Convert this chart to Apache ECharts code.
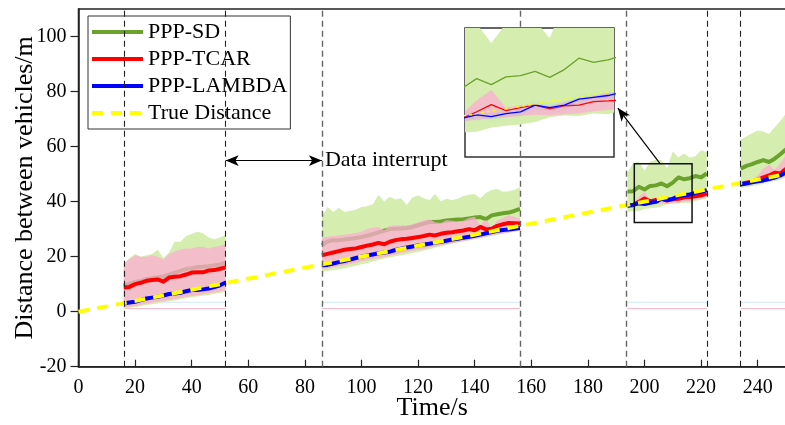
<!DOCTYPE html>
<html><head><meta charset="utf-8">
<script src="https://cdn.jsdelivr.net/npm/echarts@6/dist/echarts.min.js"></script>
<style>html,body{margin:0;padding:0;background:#fff}#c{width:785px;height:425px}</style>
</head><body><div id="c"></div>
<script>
// ---------- data ----------
const xTicks = [0,20,40,60,80,100,120,140,160,180,200,220,240];
const yTicks = [-20,0,20,40,60,80,100];

const segT = [
  [16,18,20,22,24,26,28,30,32,34,36,38,40,42,44,46,48,50,52],
  [86,88,90,92,94,96,98,100,102,104,106,108,110,112,114,116,118,120,122,124,126,128,130,132,134,136,138,140,142,144,146,148,150,152,154,156],
  [194,196,198,200,202,204,206,208,210,212,214,216,218,220,222],
  [234,236,238,240,242,244,246,248,250]
];

const sdHigh = [
  [17.5,19.5,21,20,20.5,21,22.5,19.5,21.5,25.5,25.3,27.5,28.2,29,28.5,27,26.3,27,28],
  [34.5,38,36.2,37.8,36.2,36.7,37,38,38.3,39,42.5,40,41.8,40.8,41.2,38.8,41.5,42.3,41.2,40.6,42.8,40,41,40.6,41,42,42.5,42.8,41.2,43.2,44.2,44.6,43.6,43.8,44.3,45.2],
  [50.6,54,54.5,51.3,54.5,55.2,55,52.1,58.2,56,57.5,56,56.5,58.7,57.9],
  [62.7,63.7,64.8,65.8,65.5,64.6,67,69.3,72]
];
const sdLow = [
  [1,1.3,1.6,2,2.4,2.7,3,3.4,3.8,4.1,4.5,4.9,5.2,5.5,5.8,6.1,6.5,6.8,7.2],
  [14.5,14.8,15.1,15.4,15.8,16.2,16.7,17.2,17.6,18.2,18.8,19.3,19.7,20.1,20.5,20.9,21.3,21.7,22.2,22.7,23.2,23.7,24.2,24.7,25.1,25.5,25.9,26.3,26.7,27.1,27.5,27.9,28.3,28.7,29.1,29.5],
  [36.3,36.5,36.6,37.3,37.6,37.8,38.2,39,39.3,39.2,39.6,39.5,40.2,40.7,41.2],
  [45,45.3,45.6,46,46.5,47,47.5,48,48.8]
];
const sdMean = [
  [9.5,10.2,10.8,11.2,11.8,12.2,12.5,12.8,13.5,14.2,14.8,15.5,15.8,16.2,16.3,16.5,16.8,17.2,17.8],
  [24.2,25.5,26,26,26.2,26.5,26.8,27.1,27.6,28.2,28.8,29.4,30,30.1,30.2,30.4,30.8,31.4,32,32.6,32.6,32.8,33.1,33.3,33.5,33.6,33.9,34.2,34.4,33.6,35,35.4,35.8,36,36.6,37.4],
  [43.7,43.8,45.4,44.4,45.7,45.9,46.6,45.6,46.9,48.8,48.1,48.5,49.3,48.8,50.3],
  [52,53,53.6,54.4,55.1,54.4,55.6,57.2,59]
];
const tcarHigh = [
  [17.5,19,20.5,20,20,20.5,20,19,21,22,22.5,23,23,23.5,23.5,23,23.5,24,24.5],
  [27,27.2,27.5,27.7,28,28.2,28.6,29,30,30.5,30.8,29.6,31.2,31.4,31.4,31.4,31.8,32.5,33.2,33.6,32.5,32.2,33.2,33,32.6,33,34,34.5,31.5,33.5,30.5,33,34,35,34.5,33.8],
  [38.9,39.5,41.8,43.5,40.6,41,41.2,40.8,41.5,42,42.5,43,43.3,43.6,44],
  [47,47.5,48,49.5,51.9,53.5,51.5,54,56.7]
];
const tcarLow = [
  [1.5,1.8,2.1,2.5,2.9,3.2,3.6,3.9,4.3,4.6,5,5.4,5.7,6,6.3,6.7,7,7.4,7.8],
  [15.5,15.7,16.1,16.5,16.9,17.3,17.8,18.3,18.7,19.1,19.5,19.9,20.3,20.8,21.3,21.7,22.1,22.5,22.9,23.3,23.7,24.1,24.5,24.9,25.3,25.7,26.1,26.5,26.9,27.3,27.7,28.1,28.5,28.8,29.1,29.4],
  [38,38.3,38.6,38.8,39,39.2,39.4,39.3,39.5,39.6,40,40.2,40.6,41.1,41.8],
  [45.6,46,46.3,46.7,47.1,47.6,48.1,48.7,49.5]
];
const tcarMean = [
  [8.8,9,10,10.5,11.2,11.5,11.7,10.9,12.4,12.7,12.9,13.5,14.2,14.3,14.3,15,15.1,15.6,16.1],
  [20.5,21,21.5,22,22.5,22.8,23,23.5,24,24.4,25,24.5,25.4,26,26.3,26.5,26.8,27.1,27.5,28,27.7,28.3,28.7,28.9,29.2,29.5,30,29.6,30.8,29.9,30.1,31.2,31.8,32.2,32.1,32],
  [38.6,38.8,39.9,41.1,40.1,40.6,41,40.4,40.9,41,41.6,41.7,41.9,42.3,42.9],
  [46.4,46.9,47.3,48,48.8,49.5,50.5,50.2,51.9]
];
const lambdaMean = [
  [3,3.3,3.6,4.2,4.8,5.1,5.4,5.9,6.4,6.6,6.9,7.4,7.9,7.9,8.1,8.4,8.9,9.6,10.6],
  [16.9,17,17.5,18,18.4,18.9,19.5,20,20.4,20.8,21.2,21.5,21.8,22.4,22.9,23.3,23.7,24.1,24.4,24.7,25.1,25.4,25.8,26.2,26.5,26.9,27.2,27.6,28,28.5,28.9,29.4,29.7,29.9,30.1,30.4],
  [38.5,38.8,39.4,39.1,39.6,39.9,41,40.6,41,42,42.3,42.6,43.2,43.6,44.2],
  [46.2,46.6,47,47.4,47.7,48.2,48.7,49.5,50.6]
];
const trueT = [0,16,52,86,156,194,222,234,250];
const trueDist = [0,3.1,10.4,17.2,31.2,38.8,44.4,46.8,50];

const pinkFloor = 1.1;
const blueFloor = 3.4;

const interruptLines = [16,52,86,156,193.5,222.3,233.8];
const interruptDark = [true,true,false,false,false,true,true];

const arrowY = 54.9;
const zoomBox = [196.4, 216.8, 32.4, 53.8];
const zoomArrow = [[205.5,53.8],[190.6,74]];

// ---------- helpers ----------
function build(fn){
  const out=[];
  segT.forEach((ts,s)=>{
    if(s>0){ const p=segT[s-1]; out.push([(p[p.length-1]+ts[0])/2,'-']); }
    ts.forEach((t,i)=>out.push([t, fn(s,i)]));
  });
  return out;
}
function floorLine(v){
  const out=[];
  segT.forEach((ts,s)=>{
    if(s>0){ const p=segT[s-1]; out.push([(p[p.length-1]+ts[0])/2,'-']); }
    out.push([ts[0],v]); out.push([ts[ts.length-1],v]);
  });
  return out;
}
const sdLine = build((s,i)=>sdMean[s][i]);
const tcLine = build((s,i)=>tcarMean[s][i]);
const laLine = build((s,i)=>lambdaMean[s][i]);
const trueLine = trueT.map((t,i)=>[t,trueDist[i]]);

const FONT = 'Liberation Serif';
const GREEN = '#6aa22c', RED = '#ff0000', BLUE = '#0000ff', YELLOW = '#ffff00';
const GREEN_BAND = '#d5eeb0', PINK_BAND = 'rgba(252,172,210,0.75)';

function bandSeries(name, low, high, color, grid, z){
  return {
    name, type:'custom', coordinateSystem:'cartesian2d', xAxisIndex:grid, yAxisIndex:grid, z, silent:true, clip:true,
    data: segT.map((ts,s)=>[ts[0], low[s][0]]),
    renderItem(params, api){
      const s = params.dataIndex, ts = segT[s], pts = [];
      for(let i=0;i<ts.length;i++) pts.push(api.coord([ts[i], high[s][i]]));
      for(let i=ts.length-1;i>=0;i--) pts.push(api.coord([ts[i], low[s][i]]));
      const cs = params.coordSys;
      return {type:'group',
        clipPath:{type:'rect', shape:{x:cs.x, y:cs.y, width:cs.width, height:cs.height}},
        children:[{type:'polygon', shape:{points:pts}, style:{fill:color, stroke:null}, silent:true}]};
    }
  };
}
function lineSeries(name, data, color, width, grid, z, extra){
  return Object.assign({name, type:'line', data, symbol:'none', showSymbol:false, silent:true, xAxisIndex:grid, yAxisIndex:grid, z,
    connectNulls:false, lineStyle:{color, width, join:'round'}, itemStyle:{color}}, extra||{});
}

function layerSet(grid, z, w, suffix){
  return [
    bandSeries('sdBand'+suffix, sdLow, sdHigh, GREEN_BAND, grid, z),
    lineSeries('PPP-SD'+suffix, sdLine, GREEN, w, grid, z+0.5),
    bandSeries('tcBand'+suffix, tcarLow, tcarHigh, PINK_BAND, grid, z+1),
    lineSeries('PPP-TCAR'+suffix, tcLine, RED, w, grid, z+1.5),
    lineSeries('PPP-LAMBDA'+suffix, laLine, BLUE, w, grid, z+1.6,
      grid===1 ? {lineStyle:{color:BLUE,width:w,shadowColor:'rgba(110,190,255,0.9)',shadowBlur:4}} : {}),
    lineSeries('True Distance'+suffix, trueLine, YELLOW, grid===1?1.2:4, grid, z+1.7,
      {lineStyle:{color:YELLOW,width:grid===1?1.2:4,type: grid===1?[3,3]:[11,8]}})
  ];
}

const vLineData = interruptLines.map((x,i)=>({xAxis:x, lineStyle:{color: interruptDark[i]?'#222':'#666', width: interruptDark[i]?1.1:1.4, type:[6,4]}}));

const series = [
  lineSeries('pinkFloor', floorLine(pinkFloor), 'rgba(240,170,190,0.9)', 1, 0, 1),
  lineSeries('blueFloor', floorLine(blueFloor), 'rgba(200,225,245,0.8)', 1, 0, 1),
  ...layerSet(0, 2, 4, ''),
  {name:'vlines', type:'line', data:[], z:3, silent:true,
   markLine:{silent:true, symbol:['none','none'], label:{show:false}, animation:false, data: vLineData}},
  {name:'arrows', type:'line', data:[], z:9, silent:true,
   markLine:{silent:true, z:10, symbol:['arrow','arrow'], symbolSize:[8,13], animation:false,
     lineStyle:{color:'#000', width:1.2, type:'solid'},
     data:[
       [{coord:[interruptLines[1], arrowY]}, {coord:[interruptLines[2], arrowY],
         label:{show:true, position:'end', formatter:'Data interrupt', fontFamily:FONT, fontSize:22, color:'#000', distance:3}}],
       [{coord:zoomArrow[0], symbol:'none'}, {coord:zoomArrow[1], symbol:'arrow', label:{show:false}}]
     ],
     label:{show:false}}},
  {name:'box', type:'line', data:[], z:9, silent:true,
   markArea:{silent:true, z:10, itemStyle:{color:'rgba(0,0,0,0)', borderColor:'#111', borderWidth:1.5},
     data:[[{coord:[zoomBox[0], zoomBox[3]]},{coord:[zoomBox[1], zoomBox[2]]}]]}},
  ...layerSet(1, 6, 1.3, ' (zoom)')
];

const chart = echarts.init(document.getElementById('c'), null, {renderer:'canvas'});
chart.setOption({
  animation:false,
  backgroundColor:'#fff',
  grid:[
    {left:78.5, top:9, width:707.5, height:357.7, show:true, borderColor:'#222', borderWidth:1.5, backgroundColor:'rgba(0,0,0,0)', z:0, outerBoundsMode:'none', containLabel:false},
    {left:465, top:28, width:149, height:129, show:true, borderColor:'#333', borderWidth:1.5, backgroundColor:'#fff', z:5, outerBoundsMode:'none', containLabel:false}
  ],
  legend:{
    data:['PPP-SD','PPP-TCAR','PPP-LAMBDA','True Distance'],
    orient:'vertical', left:88, top:16, itemWidth:51, itemHeight:14, itemGap:5,
    padding:[5,3,5,2], backgroundColor:'#fff', borderColor:'#333', borderWidth:1, borderRadius:0,
    textStyle:{fontFamily:FONT, fontSize:22, color:'#000', lineHeight:22},
    itemStyle:{opacity:0, borderWidth:0},
    lineStyle:{width:4, type:'inherit'},
    selectedMode:false
  },
  xAxis:[
    {type:'value', gridIndex:0, min:0, max:250,
     name:'Time/s', nameLocation:'middle', nameGap:28, nameMoveOverlap:false, nameTextStyle:{fontFamily:FONT, fontSize:26, color:'#000'},
     axisLine:{show:true, onZero:false, lineStyle:{color:'#222', width:1.5}},
     axisTick:{show:true, inside:true, length:7, lineStyle:{color:'#222', width:1.2}, customValues:xTicks},
     axisLabel:{fontFamily:FONT, fontSize:20, color:'#000', margin:11, customValues:xTicks},
     splitLine:{show:false}},
    {type:'value', gridIndex:1, min:zoomBox[0], max:zoomBox[1], show:false, splitLine:{show:false}}
  ],
  yAxis:[
    {type:'value', gridIndex:0, min:-20, max:110,
     name:'Distance between vehicles/m', nameLocation:'middle', nameGap:40, nameMoveOverlap:false, nameTextStyle:{fontFamily:FONT, fontSize:26, color:'#000'},
     axisLine:{show:true, onZero:false, lineStyle:{color:'#222', width:1.5}},
     axisTick:{show:true, inside:false, length:8, lineStyle:{color:'#222', width:1.2}, customValues:yTicks},
     axisLabel:{fontFamily:FONT, fontSize:20, color:'#000', margin:12, customValues:yTicks},
     splitLine:{show:false}},
    {type:'value', gridIndex:1, min:zoomBox[2], max:zoomBox[3], show:false, splitLine:{show:false}}
  ],
  series
});
</script>
</body></html>
